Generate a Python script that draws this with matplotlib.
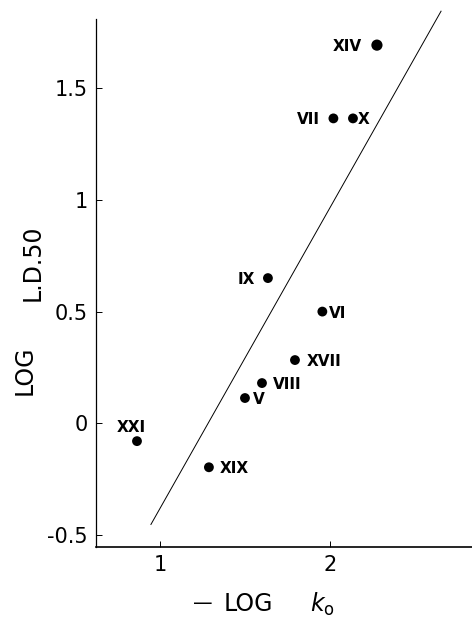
import numpy as np
from matplotlib import pyplot as plt

# compounds (roman numerals) with -log k0 and log LD50
names = ['XIV', 'VII', 'X', 'IX', 'VI', 'XVII', 'VIII', 'V', 'XXI', 'XIX']
neg_log_k0 = [2.276, 2.02, 2.135, 1.635, 1.955, 1.794, 1.60, 1.50, 0.865, 1.288]
log_ld50 = [1.693, 1.365, 1.365, 0.65, 0.50, 0.283, 0.18, 0.113, -0.08, -0.197]

# label offsets (points) relative to each dot
label_off = {
        'XIV': (-11, 0, 'right'),
        'VII': (-9.4, 0, 'right'),
        'X': (3.6, 0, 'left'),
        'IX': (-9.4, 0, 'right'),
        'VI': (5, 0, 'left'),
        'XVII': (8.6, 0, 'left'),
        'VIII': (8, 0, 'left'),
        'V': (5.8, 0, 'left'),
        'XXI': (-4.3, 11, 'center'),
        'XIX': (8, 0, 'left'),
        }

# regression line end points
line_x = [0.947, 2.653]
line_y = [-0.453, 1.845]

xticks = [1, 2]
yticks = [-0.5, 0, 0.5, 1, 1.5]
ytick_labels = ['-0.5', '0', '0.5', '1', '1.5']

fig = plt.figure(figsize=(4.72, 6.18), dpi=100)
ax = fig.add_axes([96/472, 71/618, 1 - 96/472, (547 - 19)/618])

ax.plot(line_x, line_y, color='black', lw=0.7, clip_on=False)
sizes = [65 if n == 'XIV' else 50 for n in names]
ax.scatter(neg_log_k0, log_ld50, s=sizes, color='black', zorder=3, clip_on=False,
           linewidths=0)
for n, x, y in zip(names, neg_log_k0, log_ld50):
    dx, dy, ha = label_off[n]
    ax.annotate(n, (x, y), xytext=(dx, dy), textcoords='offset points',
                ha=ha, va='center_baseline', fontsize=11, fontweight='bold')

ax.set_xlim(0.624, 2.835)
ax.set_ylim(-0.554, 1.81)
ax.set_xticks(xticks)
ax.set_xticklabels(['1', '2'])
ax.set_yticks(yticks)
ax.set_yticklabels(ytick_labels)
ax.tick_params(direction='in', length=4, width=0.7, labelsize=15, pad=6)
ax.spines['top'].set_visible(False)
ax.spines['right'].set_visible(False)
ax.spines['left'].set_linewidth(0.9)
ax.spines['bottom'].set_linewidth(1.2)

# x axis label, pieces placed separately like the original typesetting
fig.text(203/472, 1 - 604/618, '\u2014', ha='center', va='center', fontsize=14)
fig.text(248/472, 1 - 604/618, 'LOG', ha='center', va='center', fontsize=17)
fig.text(322/472, 1 - 604/618, r'$k_{\rm o}$', ha='center', va='center', fontsize=17)

# y axis label
fig.text(25/472, 1 - 370/618, 'LOG', ha='center', va='center',
         rotation=90, fontsize=17)
fig.text(33/472, 1 - 263/618, 'L.D.50', ha='center', va='center',
         rotation=90, fontsize=17)

fig.savefig('out.png', dpi=100)
